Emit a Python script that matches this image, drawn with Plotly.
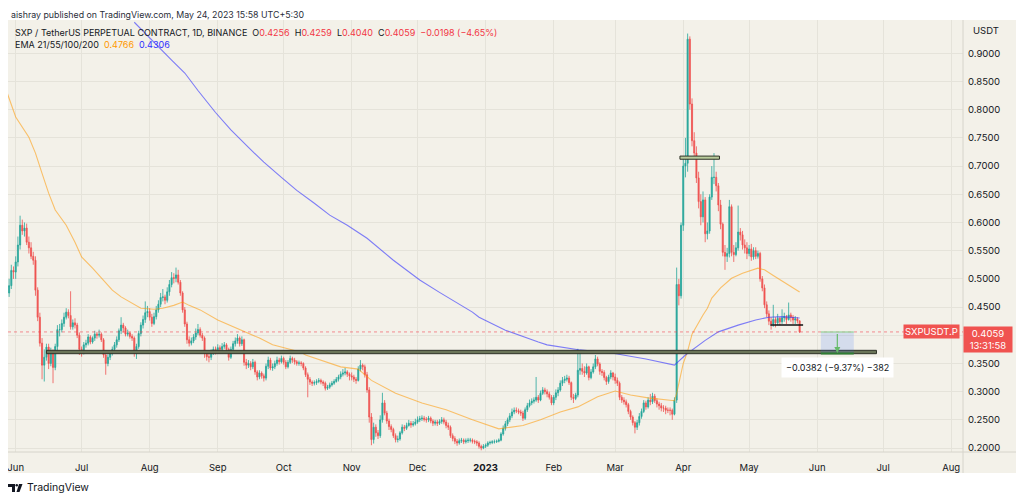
import pandas as pd
import plotly.graph_objects as go

# ---- daily candles, SXP/USDT perp, 2022-05-28 .. 2023-05-24 ----
first_open = 0.462
closes = [
    0.475, 0.488, 0.515, 0.512,  # May 28-31
    0.530, 0.560, 0.595, 0.585, 0.590, 0.565, 0.555, 0.540, 0.533, 0.480, 0.432, 0.386, 0.347, 0.361, 0.379,
    0.350, 0.370, 0.343, 0.380, 0.410, 0.410, 0.421, 0.432, 0.441, 0.435, 0.415, 0.422, 0.418, 0.400, 0.375,  # Jun
    0.373, 0.383, 0.386, 0.397, 0.388, 0.395, 0.402, 0.400, 0.402, 0.392, 0.365, 0.350, 0.361, 0.368, 0.375,
    0.383, 0.392, 0.408, 0.418, 0.413, 0.402, 0.404, 0.398, 0.395, 0.368, 0.380, 0.403, 0.418, 0.428, 0.440, 0.442,  # Jul
    0.432, 0.421, 0.433, 0.445, 0.455, 0.467, 0.468, 0.462, 0.477, 0.490, 0.502, 0.501, 0.507, 0.494, 0.475,
    0.445, 0.420, 0.392, 0.386, 0.390, 0.397, 0.404, 0.410, 0.400, 0.395, 0.368, 0.362, 0.361, 0.370, 0.375, 0.372,  # Aug
    0.378, 0.375, 0.380, 0.383, 0.375, 0.361, 0.375, 0.385, 0.390, 0.395, 0.385, 0.392, 0.352, 0.347, 0.350,
    0.344, 0.352, 0.335, 0.326, 0.333, 0.328, 0.324, 0.345, 0.356, 0.342, 0.344, 0.350, 0.356, 0.353, 0.359,  # Sep
    0.352, 0.344, 0.352, 0.359, 0.356, 0.353, 0.350, 0.351, 0.350, 0.342, 0.330, 0.322, 0.317, 0.315, 0.316,
    0.318, 0.320, 0.317, 0.315, 0.306, 0.308, 0.312, 0.315, 0.318, 0.322, 0.326, 0.331, 0.333, 0.335, 0.331, 0.328,  # Oct
    0.326, 0.322, 0.320, 0.340, 0.347, 0.344, 0.330, 0.303, 0.255, 0.215, 0.237, 0.227, 0.222, 0.250, 0.280,
    0.262, 0.248, 0.238, 0.233, 0.222, 0.215, 0.216, 0.227, 0.237, 0.235, 0.240, 0.244, 0.241, 0.243, 0.246,  # Nov
    0.250, 0.252, 0.253, 0.251, 0.250, 0.253, 0.248, 0.244, 0.246, 0.244, 0.247, 0.250, 0.246, 0.240, 0.237,
    0.222, 0.217, 0.212, 0.209, 0.213, 0.214, 0.211, 0.213, 0.214, 0.214, 0.212, 0.211, 0.209, 0.203, 0.200, 0.203,  # Dec
    0.205, 0.209, 0.210, 0.211, 0.211, 0.212, 0.214, 0.225, 0.235, 0.243, 0.250, 0.257, 0.264, 0.267, 0.266,
    0.264, 0.262, 0.253, 0.268, 0.275, 0.280, 0.283, 0.285, 0.290, 0.285, 0.297, 0.303, 0.300, 0.296, 0.290, 0.280,  # Jan
    0.290, 0.298, 0.303, 0.315, 0.320, 0.322, 0.324, 0.316, 0.290, 0.288, 0.294, 0.338, 0.341, 0.336,
    0.333, 0.344, 0.325, 0.335, 0.344, 0.358, 0.349, 0.336, 0.334, 0.325, 0.318, 0.326, 0.333, 0.326,  # Feb
    0.320, 0.315, 0.290, 0.285, 0.282, 0.277, 0.265, 0.255, 0.245, 0.237, 0.245, 0.256, 0.265, 0.280, 0.273,
    0.285, 0.282, 0.292, 0.284, 0.278, 0.275, 0.271, 0.271, 0.267, 0.267, 0.267, 0.260, 0.285, 0.490, 0.470, 0.595,  # Mar
    0.700, 0.705, 0.925, 0.810, 0.745, 0.723, 0.679, 0.637, 0.610, 0.640, 0.580, 0.585, 0.645, 0.680, 0.680,
    0.665, 0.631, 0.597, 0.547, 0.540, 0.545, 0.628, 0.547, 0.543, 0.555, 0.583, 0.578, 0.560, 0.555, 0.545,  # Apr
    0.553, 0.539, 0.550, 0.540, 0.545, 0.500, 0.484, 0.454, 0.438, 0.425, 0.420, 0.428,
    0.422, 0.430, 0.424, 0.431, 0.433, 0.428, 0.436, 0.432, 0.427, 0.429, 0.4256, 0.4059,  # May
]
highs = [
    0.482, 0.500, 0.525, 0.522,
    0.540, 0.575, 0.612, 0.605, 0.600, 0.598, 0.575, 0.565, 0.548, 0.540, 0.485, 0.440, 0.395, 0.375, 0.385,
    0.385, 0.378, 0.375, 0.385, 0.418, 0.420, 0.428, 0.440, 0.448, 0.446, 0.478, 0.428, 0.430, 0.422, 0.405,
    0.380, 0.388, 0.392, 0.402, 0.400, 0.398, 0.408, 0.406, 0.410, 0.405, 0.395, 0.370, 0.366, 0.372, 0.380,
    0.388, 0.398, 0.412, 0.432, 0.422, 0.416, 0.410, 0.406, 0.402, 0.398, 0.385, 0.408, 0.423, 0.435, 0.460, 0.452,
    0.448, 0.438, 0.440, 0.452, 0.462, 0.475, 0.482, 0.472, 0.485, 0.498, 0.512, 0.510, 0.520, 0.516, 0.498,
    0.478, 0.450, 0.424, 0.398, 0.396, 0.402, 0.412, 0.420, 0.414, 0.404, 0.398, 0.372, 0.368, 0.375, 0.380, 0.380,
    0.384, 0.382, 0.386, 0.388, 0.386, 0.378, 0.380, 0.390, 0.396, 0.402, 0.398, 0.398, 0.394, 0.358, 0.356,
    0.354, 0.358, 0.355, 0.338, 0.338, 0.336, 0.332, 0.350, 0.362, 0.360, 0.350, 0.355, 0.362, 0.360, 0.364,
    0.362, 0.356, 0.356, 0.364, 0.362, 0.360, 0.356, 0.355, 0.354, 0.352, 0.345, 0.334, 0.326, 0.320, 0.320,
    0.322, 0.324, 0.323, 0.320, 0.318, 0.312, 0.316, 0.319, 0.322, 0.326, 0.330, 0.336, 0.340, 0.342, 0.338, 0.334,
    0.334, 0.330, 0.326, 0.345, 0.356, 0.350, 0.348, 0.335, 0.308, 0.262, 0.245, 0.242, 0.232, 0.258, 0.298,
    0.285, 0.266, 0.252, 0.242, 0.236, 0.226, 0.222, 0.230, 0.242, 0.241, 0.245, 0.250, 0.248, 0.248, 0.252,
    0.256, 0.257, 0.258, 0.257, 0.255, 0.257, 0.256, 0.251, 0.250, 0.250, 0.251, 0.255, 0.254, 0.250, 0.245,
    0.240, 0.226, 0.221, 0.216, 0.217, 0.218, 0.217, 0.217, 0.218, 0.218, 0.217, 0.215, 0.214, 0.212, 0.206, 0.207,
    0.208, 0.212, 0.213, 0.214, 0.215, 0.215, 0.217, 0.228, 0.240, 0.248, 0.254, 0.262, 0.270, 0.272, 0.272,
    0.270, 0.268, 0.266, 0.272, 0.280, 0.286, 0.288, 0.290, 0.326, 0.294, 0.302, 0.308, 0.307, 0.304, 0.300, 0.294,
    0.294, 0.304, 0.308, 0.320, 0.326, 0.328, 0.330, 0.328, 0.318, 0.296, 0.298, 0.376, 0.372, 0.350,
    0.345, 0.350, 0.346, 0.340, 0.350, 0.365, 0.362, 0.352, 0.340, 0.338, 0.328, 0.330, 0.338, 0.335,
    0.332, 0.325, 0.318, 0.294, 0.290, 0.286, 0.280, 0.268, 0.258, 0.248, 0.250, 0.262, 0.270, 0.285, 0.284,
    0.290, 0.296, 0.298, 0.296, 0.288, 0.282, 0.280, 0.276, 0.275, 0.272, 0.272, 0.270, 0.290, 0.520, 0.500, 0.600,
    0.715, 0.750, 0.935, 0.930, 0.820, 0.760, 0.735, 0.690, 0.650, 0.655, 0.645, 0.600, 0.650, 0.700, 0.723,
    0.690, 0.670, 0.640, 0.600, 0.560, 0.555, 0.640, 0.632, 0.560, 0.565, 0.630, 0.590, 0.585, 0.570, 0.565,
    0.560, 0.562, 0.556, 0.556, 0.550, 0.548, 0.505, 0.490, 0.460, 0.444, 0.432, 0.454,
    0.432, 0.438, 0.432, 0.446, 0.440, 0.436, 0.458, 0.440, 0.436, 0.434, 0.432, 0.4259,
]
lows = [
    0.455, 0.468, 0.482, 0.500,
    0.500, 0.522, 0.552, 0.578, 0.575, 0.560, 0.545, 0.535, 0.525, 0.470, 0.425, 0.380, 0.322, 0.318, 0.355,
    0.340, 0.345, 0.315, 0.338, 0.372, 0.398, 0.405, 0.415, 0.428, 0.430, 0.410, 0.410, 0.412, 0.395, 0.365,
    0.362, 0.366, 0.378, 0.382, 0.384, 0.385, 0.390, 0.394, 0.396, 0.388, 0.360, 0.330, 0.345, 0.356, 0.364,
    0.372, 0.378, 0.388, 0.402, 0.405, 0.398, 0.398, 0.394, 0.390, 0.362, 0.358, 0.376, 0.398, 0.412, 0.422, 0.432,
    0.426, 0.415, 0.418, 0.428, 0.440, 0.450, 0.460, 0.455, 0.458, 0.470, 0.485, 0.492, 0.494, 0.490, 0.470,
    0.440, 0.415, 0.385, 0.380, 0.382, 0.386, 0.392, 0.400, 0.396, 0.390, 0.360, 0.355, 0.352, 0.356, 0.365, 0.366,
    0.368, 0.370, 0.371, 0.376, 0.370, 0.355, 0.358, 0.370, 0.380, 0.385, 0.380, 0.381, 0.346, 0.340, 0.342,
    0.338, 0.340, 0.330, 0.320, 0.322, 0.323, 0.318, 0.320, 0.340, 0.338, 0.337, 0.340, 0.346, 0.348, 0.350,
    0.348, 0.340, 0.341, 0.349, 0.351, 0.348, 0.346, 0.346, 0.345, 0.338, 0.326, 0.290, 0.312, 0.310, 0.311,
    0.312, 0.315, 0.313, 0.310, 0.302, 0.303, 0.305, 0.309, 0.312, 0.316, 0.318, 0.322, 0.327, 0.329, 0.326, 0.320,
    0.320, 0.317, 0.314, 0.318, 0.336, 0.338, 0.325, 0.298, 0.245, 0.205, 0.208, 0.220, 0.216, 0.218, 0.245,
    0.258, 0.243, 0.232, 0.228, 0.218, 0.210, 0.210, 0.213, 0.224, 0.230, 0.232, 0.238, 0.236, 0.238, 0.240,
    0.243, 0.246, 0.248, 0.247, 0.245, 0.246, 0.244, 0.239, 0.240, 0.239, 0.241, 0.243, 0.242, 0.235, 0.232,
    0.218, 0.212, 0.207, 0.204, 0.206, 0.209, 0.207, 0.208, 0.209, 0.210, 0.208, 0.207, 0.204, 0.199, 0.196, 0.198,
    0.200, 0.202, 0.206, 0.207, 0.208, 0.209, 0.210, 0.212, 0.222, 0.231, 0.239, 0.246, 0.253, 0.260, 0.262,
    0.260, 0.257, 0.248, 0.250, 0.264, 0.272, 0.276, 0.279, 0.282, 0.280, 0.283, 0.294, 0.295, 0.290, 0.286, 0.276,
    0.276, 0.285, 0.292, 0.300, 0.310, 0.315, 0.318, 0.312, 0.285, 0.280, 0.285, 0.290, 0.330, 0.330,
    0.326, 0.330, 0.320, 0.322, 0.332, 0.340, 0.345, 0.330, 0.328, 0.320, 0.312, 0.314, 0.322, 0.320,
    0.314, 0.310, 0.285, 0.280, 0.277, 0.272, 0.260, 0.250, 0.240, 0.226, 0.232, 0.240, 0.252, 0.262, 0.268,
    0.270, 0.276, 0.278, 0.280, 0.272, 0.268, 0.265, 0.264, 0.260, 0.262, 0.258, 0.250, 0.258, 0.280, 0.453, 0.465,
    0.585, 0.680, 0.690, 0.800, 0.735, 0.715, 0.670, 0.625, 0.595, 0.600, 0.565, 0.570, 0.580, 0.640, 0.668,
    0.655, 0.620, 0.588, 0.540, 0.516, 0.530, 0.538, 0.540, 0.530, 0.540, 0.550, 0.568, 0.552, 0.545, 0.535,
    0.540, 0.532, 0.534, 0.535, 0.536, 0.495, 0.478, 0.448, 0.432, 0.418, 0.410, 0.415,
    0.414, 0.418, 0.418, 0.420, 0.424, 0.420, 0.426, 0.424, 0.420, 0.420, 0.421, 0.4040,
]
assert len(closes) == len(highs) == len(lows) == 362

# EMA readings (orange = short EMA, blue = long EMA)
ema_orange_dates = [
    "2022-05-28", "2022-06-01", "2022-06-07", "2022-06-10", "2022-06-13", "2022-06-16", "2022-06-19",
    "2022-06-24", "2022-06-28", "2022-07-01", "2022-07-06", "2022-07-10", "2022-07-15", "2022-07-19",
    "2022-07-24", "2022-07-28", "2022-08-03", "2022-08-07", "2022-08-12", "2022-08-16", "2022-08-19",
    "2022-08-24", "2022-09-01", "2022-09-08", "2022-09-11", "2022-09-20", "2022-09-26", "2022-10-09",
    "2022-10-11", "2022-10-27", "2022-11-04", "2022-11-10", "2022-11-21", "2022-12-03", "2022-12-14",
    "2022-12-26", "2023-01-07", "2023-01-18", "2023-01-26", "2023-02-04", "2023-02-12", "2023-02-21",
    "2023-03-01", "2023-03-08", "2023-03-16", "2023-03-25", "2023-03-28", "2023-03-29", "2023-03-30",
    "2023-04-01", "2023-04-03", "2023-04-05", "2023-04-10", "2023-04-12", "2023-04-14", "2023-04-18",
    "2023-04-23", "2023-04-28", "2023-05-05", "2023-05-08", "2023-05-12", "2023-05-19", "2023-05-24",
]
ema_orange_values = [
    0.831, 0.787, 0.751, 0.723, 0.687, 0.652, 0.622,
    0.595, 0.565, 0.539, 0.519, 0.501, 0.480, 0.468,
    0.457, 0.448, 0.446, 0.448, 0.453, 0.459, 0.453,
    0.445, 0.427, 0.415, 0.411, 0.395, 0.383, 0.370,
    0.365, 0.344, 0.340, 0.320, 0.297, 0.280, 0.268,
    0.250, 0.234, 0.240, 0.250, 0.264, 0.273, 0.291,
    0.301, 0.294, 0.289, 0.285, 0.284, 0.297, 0.315,
    0.350, 0.372, 0.402, 0.436, 0.448, 0.466, 0.484,
    0.501, 0.510, 0.519, 0.516, 0.506, 0.488, 0.4766,
]
ema_blue_dates = [
    "2022-07-25", "2022-08-05", "2022-08-11", "2022-08-17", "2022-08-23", "2022-08-31", "2022-09-07",
    "2022-09-15", "2022-09-22", "2022-09-30", "2022-10-07", "2022-10-15", "2022-10-22", "2022-10-30",
    "2022-11-08", "2022-11-20", "2022-12-02", "2022-12-11", "2022-12-26", "2022-12-29", "2023-01-10",
    "2023-01-25", "2023-01-29", "2023-02-13", "2023-02-28", "2023-03-15", "2023-03-28", "2023-04-02",
    "2023-04-08", "2023-04-11", "2023-04-17", "2023-04-26", "2023-05-04", "2023-05-10", "2023-05-16",
    "2023-05-24",
]
ema_blue_values = [
    0.955, 0.911, 0.888, 0.865, 0.834, 0.795, 0.764,
    0.733, 0.707, 0.680, 0.657, 0.634, 0.613, 0.595,
    0.572, 0.533, 0.498, 0.476, 0.441, 0.432, 0.409,
    0.388, 0.383, 0.374, 0.368, 0.358, 0.347, 0.365,
    0.383, 0.391, 0.406, 0.418, 0.427, 0.432, 0.433,
    0.4306,
]

month_ticks = ["2022-06-01", "2022-07-01", "2022-08-01", "2022-09-01", "2022-10-01", "2022-11-01",
               "2022-12-01", "2023-01-01", "2023-02-01", "2023-03-01", "2023-04-01", "2023-05-01",
               "2023-06-01", "2023-07-01", "2023-08-01"]
month_labels = ["Jun", "Jul", "Aug", "Sep", "Oct", "Nov", "Dec", "<b>2023</b>",
                "Feb", "Mar", "Apr", "May", "Jun", "Jul", "Aug"]
price_ticks = [0.20, 0.25, 0.30, 0.35, 0.40, 0.45, 0.50, 0.55, 0.60, 0.65, 0.70, 0.75, 0.80, 0.85, 0.90]
# 0.4000 sits under the last-price label, so only its gridline shows
price_labels = ["" if v == 0.40 else f"{v:.4f}" for v in price_ticks]

last_close = 0.4059
support_zone = (0.3673, 0.3733)
top_zone = (0.7121, 0.7177)
range_low = 0.4183
target = 0.3677

UP = "#26a69a"
DOWN = "#ef5350"
BG = "#f3f1e9"
GRID = "#e5e3da"
TXT = "#131722"
FONT = "Inter"

dates = pd.date_range("2022-05-28", periods=len(closes), freq="D")
opens = [first_open] + closes[:-1]

fig = go.Figure()
fig.add_trace(go.Candlestick(
    x=dates, open=opens, high=highs, low=lows, close=closes,
    increasing=dict(line=dict(color=UP, width=0.8), fillcolor=UP),
    decreasing=dict(line=dict(color=DOWN, width=0.8), fillcolor=DOWN),
    whiskerwidth=0, hoverinfo="skip", showlegend=False))
fig.add_trace(go.Scatter(x=ema_orange_dates, y=ema_orange_values, mode="lines",
                         line=dict(color="#ff9800", width=1.1), opacity=0.55,
                         hoverinfo="skip", showlegend=False))
fig.add_trace(go.Scatter(x=ema_blue_dates, y=ema_blue_values, mode="lines",
                         line=dict(color="#3030ff", width=1.1), opacity=0.6,
                         hoverinfo="skip", showlegend=False))

# the page puts the figure 8px in from the top-left corner;
# helpers map page pixels onto paper coordinates of the plot area (x 8-963, y 20-452)
def px(x):
    return (x - 8) / 955


def py(y):
    return (452 - y) / 432


shapes = [
    # beige panel behind price / time scales
    dict(type="rect", xref="paper", yref="paper", x0=0, x1=px(1017), y0=py(473), y1=1,
         fillcolor=BG, line=dict(width=0), layer="below"),
    dict(type="line", xref="paper", yref="paper", x0=1, x1=1, y0=py(473), y1=1,
         line=dict(color="#d6d4cb", width=1)),
    dict(type="line", xref="paper", yref="paper", x0=0, x1=px(1017), y0=0, y1=0,
         line=dict(color="#d6d4cb", width=1)),
    # last price dotted line
    dict(type="line", xref="paper", yref="y", x0=0, x1=1, y0=last_close, y1=last_close,
         line=dict(color="rgba(242,54,69,0.55)", width=1, dash="dot")),
    # drawn support zone
    dict(type="rect", xref="x", yref="y", x0="2022-06-15", x1="2023-06-28",
         y0=support_zone[0], y1=support_zone[1], fillcolor="#6b7559",
         line=dict(color="#2f3328", width=1)),
    # drawn resistance zone
    dict(type="rect", xref="x", yref="y", x0="2023-03-30 12:00", x1="2023-04-17 12:00",
         y0=top_zone[0], y1=top_zone[1], fillcolor="#b9cc9c",
         line=dict(color="#2f3328", width=1)),
    # range low line
    dict(type="line", xref="x", yref="y", x0="2023-05-10 16:00", x1="2023-05-25 14:00",
         y0=range_low, y1=range_low, line=dict(color="#111111", width=1.5)),
    # measure box
    dict(type="rect", xref="x", yref="y", x0="2023-06-02 16:00", x1="2023-06-17 16:00",
         y0=target, y1=last_close, fillcolor="rgba(41,98,255,0.15)", line=dict(width=0)),
    dict(type="line", xref="x", yref="y", x0="2023-06-02 16:00", x1="2023-06-17 16:00",
         y0=last_close, y1=last_close, line=dict(color="#a5d6a7", width=1.5)),
    dict(type="line", xref="x", yref="y", x0="2023-06-02 16:00", x1="2023-06-17 16:00",
         y0=target, y1=target, line=dict(color="#2e7d32", width=2)),
    # TradingView logo mark
    dict(type="rect", xref="paper", yref="paper", x0=px(8), x1=px(15), y0=py(487), y1=py(484),
         fillcolor=TXT, line=dict(width=0)),
    dict(type="rect", xref="paper", yref="paper", x0=px(12), x1=px(15), y0=py(492), y1=py(484),
         fillcolor=TXT, line=dict(width=0)),
    dict(type="circle", xref="paper", yref="paper", x0=px(15.5), x1=px(18), y0=py(486.5), y1=py(484),
         fillcolor=TXT, line=dict(width=0)),
    dict(type="path", xref="paper", yref="paper",
         path=f"M {px(19)} {py(484)} L {px(22.5)} {py(484)} L {px(19.5)} {py(492)} L {px(16.5)} {py(492)} Z",
         fillcolor=TXT, line=dict(width=0)),
]

red = "#f23645"
header2 = ("SXP / TetherUS PERPETUAL CONTRACT, 1D, BINANCE\u00a0\u00a0"
           f"O<span style='color:{red}'>0.4256</span>\u00a0\u00a0"
           f"H<span style='color:{red}'>0.4259</span>\u00a0\u00a0"
           f"L<span style='color:{red}'>0.4040</span>\u00a0\u00a0"
           f"C<span style='color:{red}'>0.4059</span>\u00a0\u00a0"
           f"<span style='color:{red}'>\u22120.0198 (\u22124.65%)</span>")
header3 = ("EMA 21/55/100/200\u00a0\u00a0<span style='color:#ff9800'>0.4766</span>\u00a0\u00a0"
           "<span style='color:#3030ff'>0.4306</span>")

annotations = [
    dict(xref="paper", yref="paper", x=px(10), y=py(15), xanchor="left", yanchor="middle",
         text="aishray published on TradingView.com, May 24, 2023 15:58 UTC+5:30",
         showarrow=False, borderpad=0, font=dict(size=8.8, color="#2a2e39")),
    dict(xref="paper", yref="paper", x=px(13), y=py(33), xanchor="left", yanchor="middle",
         text=header2, showarrow=False, font=dict(size=9, color=TXT)),
    dict(xref="paper", yref="paper", x=px(13), y=py(45), xanchor="left", yanchor="middle",
         text=header3, showarrow=False, font=dict(size=9, color=TXT)),
    dict(xref="paper", yref="paper", x=px(971), y=py(31), xanchor="left", yanchor="middle",
         text="USDT", showarrow=False, font=dict(size=9.5, color=TXT)),
    # last price labels
    dict(xref="paper", yref="paper", x=1, y=py(326), xanchor="left", yanchor="top",
         text="0.4059<br>13:31:58", showarrow=False, align="center", width=46,
         bgcolor="#f05350", borderpad=1, font=dict(size=9.5, color="white")),
    dict(xref="paper", yref="y", x=px(960), y=last_close, xanchor="right", yanchor="middle",
         text="SXPUSDT.P", showarrow=False, bgcolor="#f05350", borderpad=1,
         font=dict(size=9.5, color="white")),
    # measure arrow + label
    dict(xref="x", yref="y", x="2023-06-10 04:00", y=target + 0.001,
         ax="2023-06-10 04:00", ay=last_close - 0.001, axref="x", ayref="y",
         text="", showarrow=True, arrowhead=2, arrowsize=1, arrowwidth=1.2, arrowcolor="#66bb6a"),
    dict(xref="x", yref="y", x="2023-06-10 04:00", y=0.342, xanchor="center", yanchor="middle",
         text="\u22120.0382 (\u22129.37%) \u2212382", showarrow=False, bgcolor="white",
         borderpad=4, font=dict(size=9, color=TXT)),
    # footer
    dict(xref="paper", yref="paper", x=px(25), y=py(488), xanchor="left", yanchor="middle",
         text="TradingView", showarrow=False, font=dict(size=10.5, color=TXT)),
]

fig.update_layout(
    width=1016, height=493,
    margin=dict(l=0, r=61, t=12, b=49),
    paper_bgcolor="white", plot_bgcolor=BG,
    font=dict(family=FONT, size=9.5, color=TXT),
    showlegend=False, hovermode=False,
    shapes=shapes, annotations=annotations,
    xaxis=dict(type="date", range=["2022-05-28 11:50", "2023-08-06 09:36"],
               tickvals=month_ticks, ticktext=month_labels, ticks="",
               showgrid=True, gridcolor=GRID, gridwidth=1, zeroline=False, showline=False,
               rangeslider=dict(visible=False), ticklabelstandoff=8,
               ticklabeloverflow="allow", tickfont=dict(size=9.5, color=TXT)),
    yaxis=dict(side="right", range=[0.193, 0.959], tickvals=price_ticks,
               ticktext=price_labels, ticks="",
               showgrid=True, gridcolor=GRID, gridwidth=1, zeroline=False, showline=False,
               ticklabelstandoff=4, tickfont=dict(size=9.5, color=TXT)),
)

fig.write_html("out.html")
